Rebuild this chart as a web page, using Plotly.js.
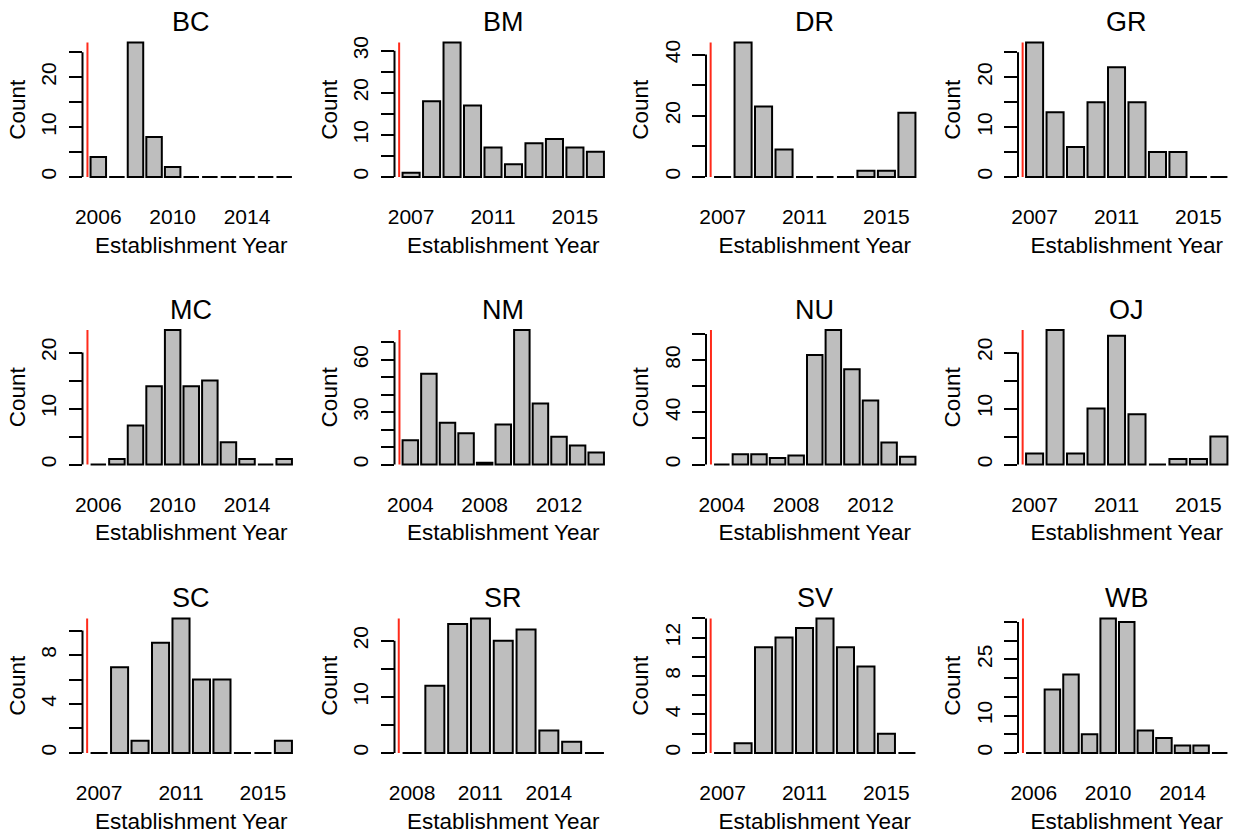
<!DOCTYPE html>
<html>
<head>
<meta charset="utf-8">
<script src="https://cdn.plot.ly/plotly-3.0.1.min.js"></script>
<style>html,body{margin:0;padding:0;background:#fff;}#chart{width:1237px;height:836px;}</style>
</head>
<body>
<div id="chart"></div>
<script>
// ---- data ----
const siteNames = ['BC','BM','DR','GR','MC','NM','NU','OJ','SC','SR','SV','WB'];

const bcYears = [2006,2007,2008,2009,2010,2011,2012,2013,2014,2015,2016];
const bcCounts = [4,0,27,8,2,0,0,0,0,0,0];
const bmYears = [2007,2008,2009,2010,2011,2012,2013,2014,2015,2016];
const bmCounts = [1,18,32,17,7,3,8,9,7,6];
const drYears = [2007,2008,2009,2010,2011,2012,2013,2014,2015,2016];
const drCounts = [0,44,23,9,0,0,0,2,2,21];
const grYears = [2007,2008,2009,2010,2011,2012,2013,2014,2015,2016];
const grCounts = [27,13,6,15,22,15,5,5,0,0];
const mcYears = [2006,2007,2008,2009,2010,2011,2012,2013,2014,2015,2016];
const mcCounts = [0,1,7,14,24,14,15,4,1,0,1];
const nmYears = [2004,2005,2006,2007,2008,2009,2010,2011,2012,2013,2014];
const nmCounts = [14,52,24,18,1,23,77,35,16,11,7];
const nuYears = [2004,2005,2006,2007,2008,2009,2010,2011,2012,2013,2014];
const nuCounts = [0,8,8,5,7,84,103,73,49,17,6];
const ojYears = [2007,2008,2009,2010,2011,2012,2013,2014,2015,2016];
const ojCounts = [2,24,2,10,23,9,0,1,1,5];
const scYears = [2007,2008,2009,2010,2011,2012,2013,2014,2015,2016];
const scCounts = [0,7,1,9,11,6,6,0,0,1];
const srYears = [2008,2009,2010,2011,2012,2013,2014,2015,2016];
const srCounts = [0,12,23,24,20,22,4,2,0];
const svYears = [2007,2008,2009,2010,2011,2012,2013,2014,2015,2016];
const svCounts = [0,1,11,12,13,14,11,9,2,0];
const wbYears = [2006,2007,2008,2009,2010,2011,2012,2013,2014,2015,2016];
const wbCounts = [0,17,21,5,36,35,6,4,2,2,0];

// x tick labels (years shown under each panel)
const bcXTicks = [2006,2010,2014];
const bmXTicks = [2007,2011,2015];
const drXTicks = [2007,2011,2015];
const grXTicks = [2007,2011,2015];
const mcXTicks = [2006,2010,2014];
const nmXTicks = [2004,2008,2012];
const nuXTicks = [2004,2008,2012];
const ojXTicks = [2007,2011,2015];
const scXTicks = [2007,2011,2015];
const srXTicks = [2008,2011,2014];
const svXTicks = [2007,2011,2015];
const wbXTicks = [2006,2010,2014];

// y ticks and their labels ('' = tick without label)
const bcYTicks = [0,5,10,15,20,25];          const bcYLabels = ['0','','10','','20',''];
const bmYTicks = [0,5,10,15,20,25,30];       const bmYLabels = ['0','','10','','20','','30'];
const drYTicks = [0,10,20,30,40];            const drYLabels = ['0','','20','','40'];
const grYTicks = [0,5,10,15,20,25];          const grYLabels = ['0','','10','','20',''];
const mcYTicks = [0,5,10,15,20];             const mcYLabels = ['0','','10','','20'];
const nmYTicks = [0,10,20,30,40,50,60,70];   const nmYLabels = ['0','','','30','','','60',''];
const nuYTicks = [0,20,40,60,80,100];        const nuYLabels = ['0','','40','','80',''];
const ojYTicks = [0,5,10,15,20];             const ojYLabels = ['0','','10','','20'];
const scYTicks = [0,2,4,6,8,10];             const scYLabels = ['0','','4','','8',''];
const srYTicks = [0,5,10,15,20];             const srYLabels = ['0','','10','','20'];
const svYTicks = [0,2,4,6,8,10,12,14];       const svYLabels = ['0','','4','','8','','12',''];
const wbYTicks = [0,5,10,15,20,25,30,35];    const wbYLabels = ['0','','10','','','25','',''];

const xTitle = 'Establishment Year';
const yTitle = 'Count';

// ---- assemble ----
const panels = [
  [bcYears,bcCounts,bcXTicks,bcYTicks,bcYLabels],
  [bmYears,bmCounts,bmXTicks,bmYTicks,bmYLabels],
  [drYears,drCounts,drXTicks,drYTicks,drYLabels],
  [grYears,grCounts,grXTicks,grYTicks,grYLabels],
  [mcYears,mcCounts,mcXTicks,mcYTicks,mcYLabels],
  [nmYears,nmCounts,nmXTicks,nmYTicks,nmYLabels],
  [nuYears,nuCounts,nuXTicks,nuYTicks,nuYLabels],
  [ojYears,ojCounts,ojXTicks,ojYTicks,ojYLabels],
  [scYears,scCounts,scXTicks,scYTicks,scYLabels],
  [srYears,srCounts,srXTicks,srYTicks,srYLabels],
  [svYears,svCounts,svXTicks,svYTicks,svYLabels],
  [wbYears,wbCounts,wbXTicks,wbYTicks,wbYLabels]
];

const FIG_W = 1237, FIG_H = 836;
const colLeft = [82.5, 394.5, 706, 1018];
const plotW = 217.5;
const rowTop = [37, 324.7, 613];
const plotH = 145.3;
const FONT = 'Liberation Sans, Arial, Helvetica, sans-serif';
const SLOT = 1.2;           // R barplot: width 1 + space 0.2
const BAR_W = 1 / SLOT;     // bar width in year units
const TICK_FONT = 21, LABEL_FONT = 22.5, TITLE_FONT = 27;

const data = [];
const layout = {
  width: FIG_W, height: FIG_H,
  margin: {l:0, r:0, t:0, b:0},
  paper_bgcolor: '#fff', plot_bgcolor: '#fff',
  showlegend: false,
  font: {family: FONT, color: '#000'},
  shapes: [], annotations: []
};

panels.forEach((p, i) => {
  const [years, counts, xt, yt, yl] = p;
  const k = i + 1;
  const sfx = k === 1 ? '' : String(k);
  const col = i % 4, row = Math.floor(i / 4);
  const n = years.length;
  const first = years[0];
  const maxC = Math.max(...counts);
  // R barplot coordinates -> year coordinates
  const span = SLOT * n - 0.2;
  const uMin = 0.2 - 0.04 * span, uMax = SLOT * n + 0.04 * span;
  const toYear = u => first + (u - 0.7) / SLOT;

  data.push({
    type: 'bar', x: years, y: counts, width: BAR_W,
    xaxis: 'x' + sfx, yaxis: 'y' + sfx,
    marker: {color: '#BEBEBE', line: {color: '#000', width: 2}},
    hoverinfo: 'x+y'
  });

  const x0 = colLeft[col] / FIG_W, x1 = (colLeft[col] + plotW) / FIG_W;
  const yTop = 1 - rowTop[row] / FIG_H, yBot = 1 - (rowTop[row] + plotH) / FIG_H;

  layout['xaxis' + sfx] = {
    domain: [x0, x1], anchor: 'y' + sfx,
    range: [toYear(uMin), toYear(uMax)],
    tickmode: 'array', tickvals: xt, ticktext: xt.map(String),
    ticks: '', showline: false, showgrid: false, zeroline: false,
    tickangle: 0, tickfont: {size: TICK_FONT, family: FONT, color: '#000'},
    ticklabelstandoff: 20,
    title: {text: xTitle, font: {size: LABEL_FONT, family: FONT, color: '#000'}, standoff: 9},
    fixedrange: true
  };
  layout['yaxis' + sfx] = {
    domain: [yBot, yTop], anchor: 'x' + sfx,
    range: [-0.04 * maxC, 1.04 * maxC],
    tickmode: 'array', tickvals: yt, ticktext: yl,
    ticks: 'outside', ticklen: 13, tickwidth: 2, tickcolor: '#000',
    showline: false, showgrid: false, zeroline: false,
    tickangle: -90, tickfont: {size: TICK_FONT, family: FONT, color: '#000'},
    ticklabelstandoff: 4,
    title: {text: yTitle, font: {size: LABEL_FONT, family: FONT, color: '#000'}, standoff: 5},
    fixedrange: true
  };

  // y axis line from 0 to the last tick (R style)
  layout.shapes.push({
    type: 'line', xref: 'x' + sfx + ' domain', yref: 'y' + sfx,
    x0: 0, x1: 0, y0: yt[0], y1: yt[yt.length - 1],
    line: {color: '#000', width: 2}
  });
  // red reference line at the left edge of the first bar slot
  const redX = toYear(0);
  layout.shapes.push({
    type: 'line', xref: 'x' + sfx, yref: 'y' + sfx,
    x0: redX, x1: redX, y0: 0, y1: maxC,
    line: {color: '#FF2A1A', width: 2}, layer: 'above'
  });
  // panel title
  layout.annotations.push({
    text: siteNames[i], showarrow: false,
    xref: 'x' + sfx + ' domain', yref: 'y' + sfx + ' domain',
    x: 0.5, y: 1, xanchor: 'center', yanchor: 'middle', yshift: 15,
    font: {size: TITLE_FONT, family: FONT, color: '#000'}
  });
});

Plotly.newPlot('chart', data, layout, {staticPlot: true, displayModeBar: false});
</script>
</body>
</html>
